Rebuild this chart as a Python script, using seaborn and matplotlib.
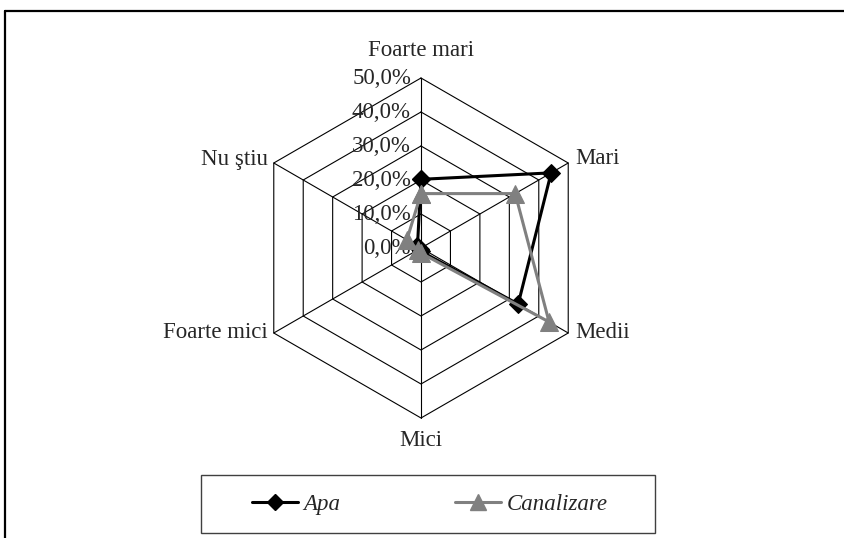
import numpy as np
import pandas as pd
import matplotlib
matplotlib.use("Agg")
import matplotlib.pyplot as plt
from matplotlib.lines import Line2D
from matplotlib.patches import Rectangle
import seaborn as sns

# Survey answers per category (share of respondents)
categories = ["Foarte mari", "Mari", "Medii", "Mici", "Foarte mici", "Nu ştiu"]
apa = [0.202, 0.442, 0.330, 0.010, 0.005, 0.012]
canalizare = [0.160, 0.320, 0.435, 0.015, 0.010, 0.048]
ring_values = [0.0, 0.1, 0.2, 0.3, 0.4, 0.5]
ring_labels = ["0,0%", "10,0%", "20,0%", "30,0%", "40,0%", "50,0%"]
series_names = ["Apa", "Canalizare"]

sns.set_theme(style="white")
plt.rcParams["font.family"] = ["Liberation Serif", "DejaVu Serif"]

W, H, DPI = 845, 538, 100
fig = plt.figure(figsize=(W / DPI, H / DPI), dpi=DPI)
fig.patch.set_facecolor("white")

# polar axes centred on the hexagon, radius 170 px for 50 %
cx, cy, R = 421, 248, 170
ax = fig.add_axes([(cx - R) / W, (H - cy - R) / H, 2 * R / W, 2 * R / H],
                  projection="polar")
ax.set_theta_zero_location("N")
ax.set_theta_direction(-1)
ax.set_ylim(0, 0.5)
ax.grid(False)
ax.spines["polar"].set_visible(False)
ax.set_xticks([])
ax.set_yticks([])
ax.patch.set_alpha(0)

n = len(categories)
theta = np.arange(n) * 2 * np.pi / n
theta_closed = np.append(theta, 2 * np.pi)

# hexagonal grid rings and spokes
for r in ring_values[1:]:
    ax.plot(theta_closed, [r] * (n + 1), color="black", lw=0.8, clip_on=False, zorder=1)
for t in theta:
    ax.plot([t, t], [0, ring_values[-1]], color="black", lw=0.8, clip_on=False, zorder=1)

# long-form table for seaborn, loops closed on the first category
rows = []
for name, vals in zip(series_names, [apa, canalizare]):
    closed = list(vals) + [vals[0]]
    for t, v in zip(theta_closed, closed):
        rows.append({"serie": name, "theta": t, "value": v})
df = pd.DataFrame(rows)

colors = {"Apa": "#000000", "Canalizare": "#808080"}
markers = {"Apa": "D", "Canalizare": "^"}
msizes = {"Apa": 9.5, "Canalizare": 12.5}
line_w = 2.2

sns.lineplot(data=df, x="theta", y="value", hue="serie", style="serie",
             palette=colors, markers=markers, dashes=False, sort=False,
             estimator=None, lw=line_w, legend=False, ax=ax, zorder=3)
for line, name in zip(ax.get_lines()[-2:], series_names):
    line.set_markersize(msizes[name])
    line.set_markeredgecolor(colors[name])
    line.set_markerfacecolor(colors[name])
    line.set_clip_on(False)
ax.set_xlabel("")
ax.set_ylabel("")
ax.set_ylim(0, 0.5)

fs = 16.5
# category labels around the hexagon
offsets = {
    "Foarte mari": ((0, 28), "center", "center"),
    "Mari": ((7, 4), "left", "center"),
    "Medii": ((7, 0), "left", "center"),
    "Mici": ((0, -22), "center", "center"),
    "Foarte mici": ((-6, 1), "right", "center"),
    "Nu ştiu": ((-6, 3), "right", "center"),
}
for t, cat in zip(theta, categories):
    off, ha, va = offsets[cat]
    ax.annotate(cat, xy=(t, 0.5), xytext=off, textcoords="offset pixels",
                ha=ha, va=va, fontsize=fs, annotation_clip=False)

# ring value labels along the top spoke
for r, lab in zip(ring_values, ring_labels):
    ax.annotate(lab, xy=(0, r), xytext=(-10, 0), textcoords="offset pixels",
                ha="right", va="center", fontsize=fs, annotation_clip=False,
                zorder=2)

# chart area frame (top and left edges)
fig.add_artist(Line2D([5 / W, 1.0], [1 - 11 / H, 1 - 11 / H],
                      transform=fig.transFigure, color="black", lw=1.6))
fig.add_artist(Line2D([5 / W, 5 / W], [0.0, 1 - 11 / H],
                      transform=fig.transFigure, color="black", lw=1.6))

# legend box
lx0, ly0, lx1, ly1 = 201, 475, 655, 533
fig.add_artist(Rectangle((lx0 / W, 1 - ly1 / H), (lx1 - lx0) / W, (ly1 - ly0) / H,
                         transform=fig.transFigure, fill=False,
                         edgecolor="#404040", lw=1.0))
handles = [Line2D([], [], color=colors[s], marker=markers[s], lw=line_w,
                  markersize=msizes[s] * 0.9, markeredgecolor=colors[s])
           for s in series_names]
leg = fig.legend(handles, series_names, loc="center",
                 bbox_to_anchor=((lx0 + lx1) / 2 / W + 0.002, 1 - (ly0 + ly1) / 2 / H),
                 ncol=2, frameon=False, handlelength=2.0, handletextpad=0.25,
                 columnspacing=5.0, prop={"size": fs, "style": "italic"})

fig.savefig("out.png", dpi=DPI)
